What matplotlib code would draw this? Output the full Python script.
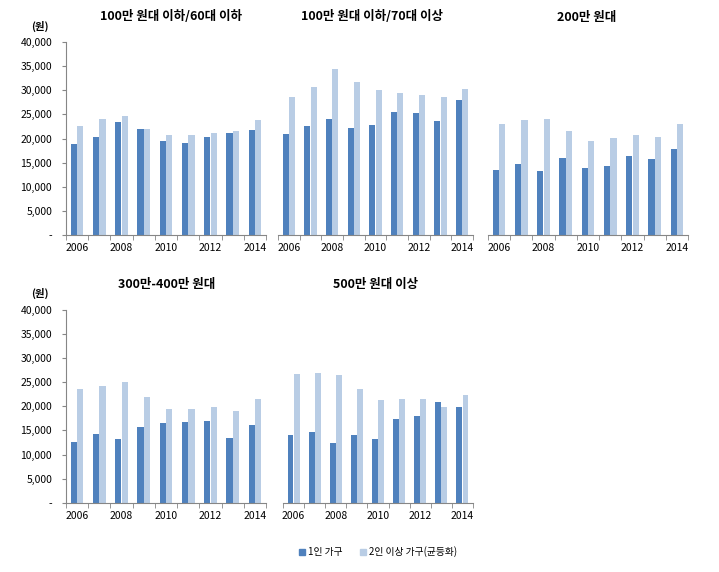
import matplotlib
matplotlib.use("Agg")
import matplotlib.pyplot as plt
from matplotlib.patches import Patch
import numpy as np

plt.rcParams['font.family'] = ['Noto Sans CJK KR', 'DejaVu Sans']

# data (won)
years = [2006, 2007, 2008, 2009, 2010, 2011, 2012, 2013, 2014]
year_labels = ['2006', '2008', '2010', '2012', '2014']
series_names = ['1인 가구', '2인 이상 가구(균등화)']

titles = ['100만 원대 이하/60대 이하', '100만 원대 이하/70대 이상', '200만 원대',
          '300만-400만 원대', '500만 원대 이상']

one_person = [
    [18900, 20400, 23500, 22000, 19400, 19000, 20400, 21100, 21700],
    [20900, 22500, 24100, 22100, 22800, 25500, 25200, 23600, 28000],
    [13400, 14700, 13200, 16000, 13800, 14300, 16400, 15800, 17800],
    [12600, 14300, 13300, 15700, 16500, 16700, 16900, 13400, 16100],
    [14000, 14700, 12300, 14100, 13300, 17300, 17900, 20900, 19900],
]
two_plus = [
    [22500, 24000, 24600, 22000, 20700, 20800, 21200, 21500, 23900],
    [28500, 30700, 34400, 31700, 30000, 29400, 29000, 28600, 30200],
    [23000, 23900, 24000, 21500, 19400, 20100, 20700, 20300, 23000],
    [23500, 24200, 25000, 21900, 19400, 19400, 19900, 19000, 21500],
    [26600, 26800, 26500, 23500, 21200, 21400, 21500, 19900, 22300],
]

dark = '#4F81BD'
light = '#B9CDE5'
axis_gray = '#868686'

W, H = 719, 572
fig = plt.figure(figsize=(W / 100, H / 100), dpi=100)

# panel boxes in pixels: left, right, top, bottom
boxes = [
    (66, 266, 42, 235),
    (278, 473, 42, 235),
    (488, 688, 42, 235),
    (66, 266, 309.5, 503),
    (283, 473, 309.5, 503),
]
title_x = [171, 372, 587, 167, 376]

x = np.arange(len(years))
bw = 0.28

for k in range(5):
    l, r, t, b = boxes[k]
    ax = fig.add_axes([l / W, 1 - b / H, (r - l) / W, (b - t) / H])
    ax.bar(x - 0.145, one_person[k], bw, color=dark, zorder=2)
    ax.bar(x + 0.145, two_plus[k], bw, color=light, zorder=2)
    ax.set_xlim(-0.5, len(years) - 0.5)
    ax.set_ylim(0, 40000)

    for s in ['top', 'right']:
        ax.spines[s].set_visible(False)
    ax.spines['bottom'].set_color(axis_gray)
    ax.spines['left'].set_color(axis_gray)

    ax.set_xticks(x[::2])
    ax.set_xticklabels(year_labels)
    ax.set_xticks(np.arange(-0.5, len(years)), minor=True)
    ax.tick_params(axis='x', which='major', length=0, pad=6, labelsize=7.5, colors='black')
    ax.tick_params(axis='x', which='minor', length=3.5, color=axis_gray, direction='out')

    if k in (0, 3):
        yt = np.arange(0, 40001, 5000)
        ax.set_yticks(yt)
        ax.set_yticklabels(['-'] + ['{:,}'.format(v) for v in yt[1:]])
        ax.tick_params(axis='y', length=3, color=axis_gray, pad=7, labelsize=7.5, colors='black')
        ax.tick_params(axis='y', colors=axis_gray)
        for lab in ax.get_yticklabels():
            lab.set_color('black')
        fig.text(40 / W, 1 - (t - 16) / H, '(원)', ha='center', va='center',
                 fontsize=7.5, fontweight='bold')
    else:
        ax.spines['left'].set_visible(False)
        ax.set_yticks([])

    fig.text(title_x[k] / W, 1 - (t - 25) / H, titles[k], ha='center', va='center',
             fontsize=9, fontweight='bold')

handles = [Patch(color=dark, label=series_names[0]), Patch(color=light, label=series_names[1])]
fig.legend(handles=handles, loc='center', bbox_to_anchor=(378 / W, 1 - 552 / H), ncol=2,
           frameon=False, fontsize=7, handlelength=0.6, handleheight=0.6,
           handletextpad=0.3, columnspacing=1.8)

fig.savefig('out.png', dpi=100)
